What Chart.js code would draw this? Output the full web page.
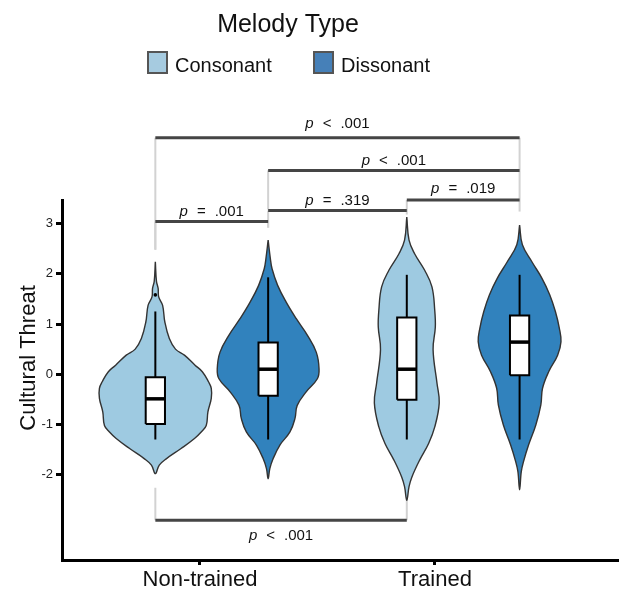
<!DOCTYPE html>
<html lang="en">
<head>
<meta charset="UTF-8">
<title>Cultural Threat by Melody Type</title>
<script src="https://cdn.jsdelivr.net/npm/chart.js@4.4.1/dist/chart.umd.min.js"></script>
<style>
  html, body { margin: 0; padding: 0; background: #fff; }
  #wrap { width: 619px; height: 589px; }
</style>
</head>
<body>
<div id="wrap"><canvas id="violinChart" width="619" height="589"></canvas></div>
<script>
// categories
const groups = ['Non-trained', 'Trained'];
const groupTicks = [1, 2];
const melodyTypes = ['Consonant', 'Dissonant'];
const yTicks = [-2, -1, 0, 1, 2, 3];

// violins, in order: Non-trained/Consonant, Non-trained/Dissonant, Trained/Consonant, Trained/Dissonant
const violinPos = [0.81, 1.29, 1.88, 2.36];
const violinType = [0, 1, 0, 1];

// density outlines (y level, relative density)
const ntConsY = [2.24, 1.85, 1.71, 1.54, 1.37, 1.04, 0.71, 0.50, 0.38, 0.18, 0.05, -0.15, -0.28, -0.48, -0.75, -1.02, -1.15, -1.28, -1.48, -1.68, -1.81, -1.98];
const ntConsDens = [0, .02, .05, .06, .13, .17, .25, .36, .52, .71, .84, .95, 1.0, 1.0, .94, .91, .82, .70, .46, .20, .07, 0];
const ntDissY = [2.67, 2.30, 2.10, 1.77, 1.44, 1.11, 0.78, 0.44, 0.11, -0.09, -0.35, -0.62, -0.88, -1.15, -1.41, -1.68, -1.88, -2.08];
const ntDissDens = [0, .04, .07, .17, .32, .50, .70, .86, .91, .88, .68, .52, .48, .39, .21, .09, .03, 0];
const tConsY = [3.13, 2.67, 2.40, 2.07, 1.74, 1.27, 0.94, 0.49, -0.18, -0.57, -1.05, -1.38, -1.71, -2.05, -2.24, -2.51];
const tConsDens = [0, .04, .14, .32, .45, .50, .51, .47, .54, .58, .50, .39, .23, .09, .04, 0];
const tDissY = [2.97, 2.58, 2.24, 1.91, 1.58, 1.25, 0.92, 0.65, 0.38, 0.05, -0.28, -0.61, -1.01, -1.41, -1.74, -1.94, -2.30];
const tDissDens = [0, .05, .22, .40, .54, .64, .71, .74, .68, .52, .41, .38, .29, .16, .07, .03, 0];

const violinY = [ntConsY, ntDissY, tConsY, tDissY];
const violinDens = [ntConsDens, ntDissDens, tConsDens, tDissDens];

// box plot stats
const whiskerLow = [-1.30, -1.30, -1.30, -1.30];
const q1 = [-0.99, -0.43, -0.51, -0.02];
const median = [-0.49, 0.10, 0.10, 0.64];
const q3 = [-0.06, 0.63, 1.13, 1.17];
const whiskerHigh = [1.25, 1.93, 1.98, 1.98];
const outliers = [[1.58], [], [], []];

// significance brackets (violin indexes, heights in y units)
const bracketFrom = [0, 1, 2, 1, 0, 0];
const bracketTo = [3, 3, 3, 2, 1, 2];
const bracketY = [4.71, 4.06, 3.47, 3.26, 3.04, -2.91];
const bracketTipFrom = [2.48, 3.28, 3.24, 2.92, 2.48, -2.26];
const bracketTipTo = [4.06, 3.47, 3.24, 3.18, 2.92, -2.26];
const bracketLabelY = [4.90, 4.17, 3.61, 3.38, 3.16, -3.31];
const bracketOp = ['<', '<', '=', '=', '=', '<'];
const bracketP = ['.001', '.001', '.019', '.319', '.001', '.001'];

const FONT = '"Liberation Sans", Arial, Helvetica, sans-serif';
const fills = ['#9ecae1', '#3182bd'];
const legendFills = ['#a6cbe0', '#4680b8'];
const HALF_W = 0.238;   // widest violin half-width, x units
const BOX_HALF = 0.041;

function violinPoints(cx, ys, ds) {
  const right = ys.map((y, i) => ({x: cx + ds[i] * HALF_W, y: y}));
  const left = ys.map((y, i) => ({x: cx - ds[i] * HALF_W, y: y})).reverse().slice(1);
  return right.concat(left);
}

const datasets = [];

violinPos.forEach((cx, i) => {
  datasets.push({
    data: violinPoints(cx, violinY[i], violinDens[i]),
    backgroundColor: fills[violinType[i]],
    borderColor: '#333',
    borderWidth: 1.4,
    fill: 'shape',
    tension: 0.4,
    pointRadius: 0,
    order: 40
  });
  datasets.push({
    data: [{x: cx, y: whiskerLow[i]}, {x: cx, y: whiskerHigh[i]}],
    borderColor: '#000',
    borderWidth: 2,
    pointRadius: 0,
    order: 30
  });
  datasets.push({
    data: [
      {x: cx - BOX_HALF, y: q1[i]}, {x: cx + BOX_HALF, y: q1[i]},
      {x: cx + BOX_HALF, y: q3[i]}, {x: cx - BOX_HALF, y: q3[i]},
      {x: cx - BOX_HALF, y: q1[i]}
    ],
    backgroundColor: '#fff',
    borderColor: '#000',
    borderWidth: 2,
    borderJoinStyle: 'miter',
    fill: 'shape',
    tension: 0,
    pointRadius: 0,
    order: 20
  });
  datasets.push({
    data: [{x: cx - BOX_HALF, y: median[i]}, {x: cx + BOX_HALF, y: median[i]}],
    borderColor: '#000',
    borderWidth: 3.5,
    pointRadius: 0,
    order: 10
  });
  if (outliers[i].length) {
    datasets.push({
      data: outliers[i].map(v => ({x: cx, y: v})),
      showLine: false,
      pointRadius: 1.8,
      pointBackgroundColor: '#000',
      pointBorderWidth: 0,
      order: 9
    });
  }
});

bracketY.forEach((by, i) => {
  const x1 = violinPos[bracketFrom[i]];
  const x2 = violinPos[bracketTo[i]];
  datasets.push({
    data: [{x: x1, y: bracketTipFrom[i]}, {x: x1, y: by}],
    borderColor: '#d2d2d2', borderWidth: 2, pointRadius: 0, clip: false, order: 50
  });
  datasets.push({
    data: [{x: x2, y: bracketTipTo[i]}, {x: x2, y: by}],
    borderColor: '#d2d2d2', borderWidth: 2, pointRadius: 0, clip: false, order: 50
  });
  datasets.push({
    data: [{x: x1, y: by}, {x: x2, y: by}],
    borderColor: '#454545', borderWidth: 3, pointRadius: 0, clip: false, order: 5
  });
});

function drawPLabel(ctx, cx, baseY, op, val) {
  const italic = 'italic 15px ' + FONT;
  const upright = '15px ' + FONT;
  const gap = 9;
  ctx.font = italic;
  const wp = ctx.measureText('p').width;
  ctx.font = upright;
  const wo = ctx.measureText(op).width;
  const wv = ctx.measureText(val).width;
  let xx = cx - (wp + wo + wv + 2 * gap) / 2;
  ctx.textAlign = 'left';
  ctx.textBaseline = 'alphabetic';
  ctx.fillStyle = '#111';
  ctx.font = italic;
  ctx.fillText('p', xx, baseY);
  xx += wp + gap;
  ctx.font = upright;
  ctx.fillText(op, xx, baseY);
  xx += wo + gap;
  ctx.fillText(val, xx, baseY);
}

const extras = {
  id: 'extras',
  afterDraw(chart) {
    const {ctx, scales: {x, y}} = chart;
    ctx.save();
    // p values
    bracketP.forEach((p, i) => {
      const cx = (x.getPixelForValue(violinPos[bracketFrom[i]]) + x.getPixelForValue(violinPos[bracketTo[i]])) / 2;
      drawPLabel(ctx, cx, y.getPixelForValue(bracketLabelY[i]), bracketOp[i], p);
    });

    // legend
    ctx.fillStyle = '#111';
    ctx.textAlign = 'center';
    ctx.textBaseline = 'alphabetic';
    ctx.font = '25px ' + FONT;
    ctx.fillText('Melody Type', 288, 32);
    const boxX = [148, 314];
    ctx.font = '20px ' + FONT;
    melodyTypes.forEach((name, i) => {
      ctx.fillStyle = legendFills[i];
      ctx.fillRect(boxX[i], 52, 19, 21);
      ctx.strokeStyle = '#555';
      ctx.lineWidth = 2;
      ctx.strokeRect(boxX[i], 52, 19, 21);
      ctx.fillStyle = '#111';
      ctx.textAlign = 'left';
      ctx.fillText(name, boxX[i] + 27, 71.5);
    });

    // y axis title
    ctx.translate(35, 358);
    ctx.rotate(-Math.PI / 2);
    ctx.textAlign = 'center';
    ctx.font = '22px ' + FONT;
    ctx.fillText('Cultural Threat', 0, 0);
    ctx.restore();
  }
};

new Chart(document.getElementById('violinChart'), {
  type: 'line',
  data: {datasets: datasets},
  options: {
    responsive: false,
    animation: false,
    events: [],
    layout: {autoPadding: false, padding: {top: 200, right: 0, bottom: 0, left: 0}},
    plugins: {
      legend: {display: false},
      tooltip: {enabled: false}
    },
    scales: {
      x: {
        type: 'linear',
        min: 0.4128,
        max: 2.783,
        afterBuildTicks: (scale) => { scale.ticks = groupTicks.map(v => ({value: v})); },
        afterFit: (scale) => { scale.height = 29; },
        grid: {drawOnChartArea: false, drawTicks: true, tickLength: 5, lineWidth: 3, color: '#000'},
        border: {display: true, width: 3, color: '#000'},
        ticks: {
          autoSkip: false,
          maxRotation: 0,
          padding: 2,
          color: '#111',
          font: {family: FONT, size: 22},
          callback: (v) => groups[groupTicks.indexOf(v)] || ''
        }
      },
      y: {
        type: 'linear',
        min: -3.70,
        max: 3.47,
        afterBuildTicks: (scale) => { scale.ticks = yTicks.map(v => ({value: v})); },
        afterFit: (scale) => { scale.width = 62; },
        grid: {drawOnChartArea: false, drawTicks: true, tickLength: 6, lineWidth: 3, color: '#000'},
        border: {display: true, width: 3, color: '#000'},
        ticks: {
          padding: 3,
          color: '#222',
          font: {family: FONT, size: 13},
          callback: (v) => String(v)
        }
      }
    }
  },
  plugins: [extras]
});
</script>
</body>
</html>
